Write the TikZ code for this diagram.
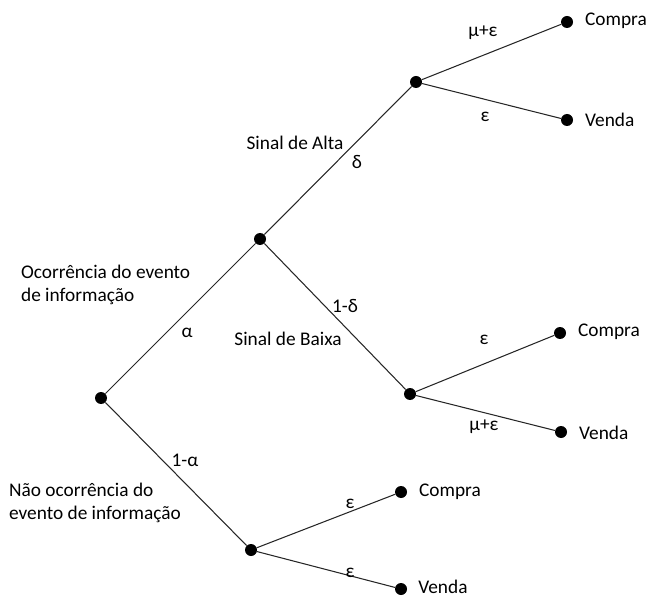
\documentclass[tikz,border=0pt]{standalone}
\usepackage{fontspec}
\setmainfont{Carlito}

\tikzset{
  dot/.style={circle, fill=black, inner sep=0pt, minimum size=0.24cm},
  lbl/.style={inner sep=1pt, font=\fontsize{11}{13}\selectfont},
  txt/.style={lbl, align=left, anchor=west},
  branch/.style={line width=0.6pt, black!85}
}

\begin{document}
\begin{tikzpicture}[x=0.02cm, y=-0.02cm]
            \useasboundingbox (0,0) rectangle (648,597);

            \node[dot] (R) at (101, 398) {};
            \node[dot] (A) at (260, 239) {};
            \node[dot] (N) at (251, 550) {};
            \node[dot] (H) at (416, 82) {};
            \node[dot] (L) at (410, 394) {};

            \node[dot] (HC) at (567, 22) {};
            \node[dot] (HV) at (567, 120) {};
            \node[dot] (LC) at (560, 333) {};
            \node[dot] (LV) at (561, 432) {};
            \node[dot] (NC) at (401, 492) {};
            \node[dot] (NV) at (401, 589) {};

            \draw[branch] (R) -- (A);
            \draw[branch] (R) -- (N);
            \draw[branch] (A) -- (H);
            \draw[branch] (A) -- (L);
            \draw[branch] (H) -- (HC);
            \draw[branch] (H) -- (HV);
            \draw[branch] (L) -- (LC);
            \draw[branch] (L) -- (LV);
            \draw[branch] (N) -- (NC);
            \draw[branch] (N) -- (NV);

            % leaves
            \node[txt] (tHC) at (583, 21) {Compra};
            \node[txt] (tHV) at (583, 120) {Venda};
            \node[txt] (tLC) at (576, 332) {Compra};
            \node[txt] (tLV) at (577, 433) {Venda};
            \node[txt] (tNC) at (417, 492) {Compra};
            \node[txt, inner sep=0pt] (tNV) at (418, 587) {Venda};

            % probabilities
            \node[lbl] (pHC) at (483, 33) {μ+ε};
            \node[lbl] (pHV) at (485, 117) {ε};
            \node[lbl] (pLC) at (484, 340) {ε};
            \node[lbl] (pLV) at (484, 427) {μ+ε};
            \node[lbl] (pNC) at (350, 504) {ε};
            \node[lbl] (pNV) at (350, 573) {ε};
            \node[lbl] (pA) at (187, 333) {α};
            \node[lbl] (pN) at (185, 460) {1-α};
            \node[lbl] (pH) at (357, 162) {δ};
            \node[lbl] (pL) at (345, 306) {1-δ};

            % events
            \node[lbl] (sH) at (295, 143) {Sinal de Alta};
            \node[lbl] (sL) at (288, 339) {Sinal de Baixa};
            \node[txt] (eA) at (19, 285) {Ocorrência do evento\\de informação};
            \node[txt] (eN) at (7, 503) {Não ocorrência do\\evento de informação};

        \end{tikzpicture}
\end{document}
